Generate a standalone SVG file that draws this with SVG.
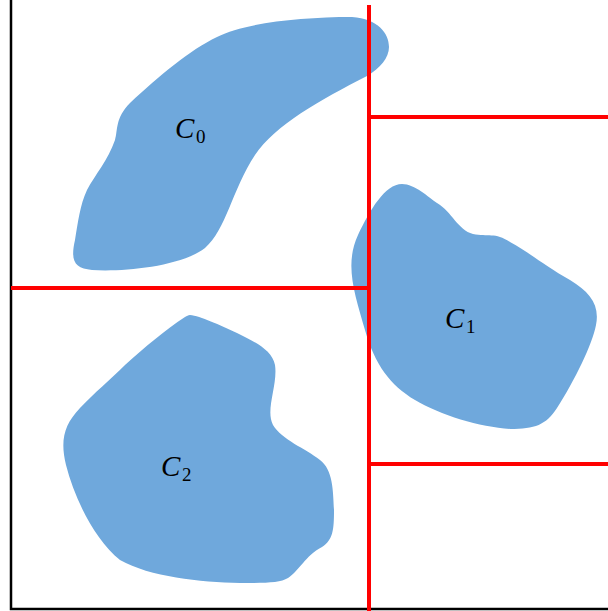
<svg xmlns="http://www.w3.org/2000/svg" width="608" height="611" viewBox="0 0 608 611">
<style>
.blob{fill:#6fa8dc;stroke:none}
.axis{stroke:#000;stroke-width:2.5;fill:none}
.cut{stroke:#ff0000;stroke-width:4;fill:none}
.lbl{font-family:"Liberation Serif",serif;font-style:italic;font-size:29px;fill:#000}
.sub{font-family:"Liberation Serif",serif;font-size:19px;fill:#000}
</style>
<rect width="608" height="611" fill="#fff"/>
<g id="C0">
<path class="blob" d="M389,47 C389,33 378,19 352,17 C300,17 245,23 217,37 C190,50 160,75 130,103 C115,118 118,130 115,140 C108,160 95,175 87,190 C80,205 78,222 75,240 C70,262 75,268 92,270 C122,272 180,267 205,248 C226,230 232,190 255,155 C275,125 320,100 367,76 C380,68 389,58 389,47 Z"/>
<text class="lbl" x="175" y="138">C</text><text class="sub" x="196" y="143">0</text>
</g>
<g id="C1">
<path class="blob" d="M402,184 C415,184 428,197 437,203 C452,212 458,230 473,234 C488,237 495,232 510,242 C530,253 545,266 570,280 C590,292 600,305 596,325 C592,345 575,380 557,408 C546,425 535,429 510,429 C480,427 440,415 415,400 C390,385 375,365 365,330 C355,295 344,265 358,235 C370,210 385,184 402,184 Z"/>
<text class="lbl" x="445" y="328">C</text><text class="sub" x="466" y="333">1</text>
</g>
<g id="C2">
<path class="blob" d="M190,315 C200,316 220,325 237,333 C255,342 272,350 275,365 C278,385 265,410 273,425 C282,440 305,448 320,460 C333,470 333,490 334,510 C334,530 333,540 322,547 C305,556 300,570 288,578 C280,583 265,583 240,583 C200,582 150,577 120,560 C95,540 75,500 66,465 C60,440 64,425 80,408 C95,392 110,380 125,365 C145,347 165,330 185,317 C187,316 188,315 190,315 Z"/>
<text class="lbl" x="161" y="476">C</text><text class="sub" x="182" y="481">2</text>
</g>
<g id="connectors">
<path class="axis" d="M11,0 V609 H608"/>
<path class="cut" d="M369,5 V611"/>
<path class="cut" d="M11,288 H369"/>
<path class="cut" d="M369,117 H608"/>
<path class="cut" d="M369,464 H608"/>
</g>
</svg>
